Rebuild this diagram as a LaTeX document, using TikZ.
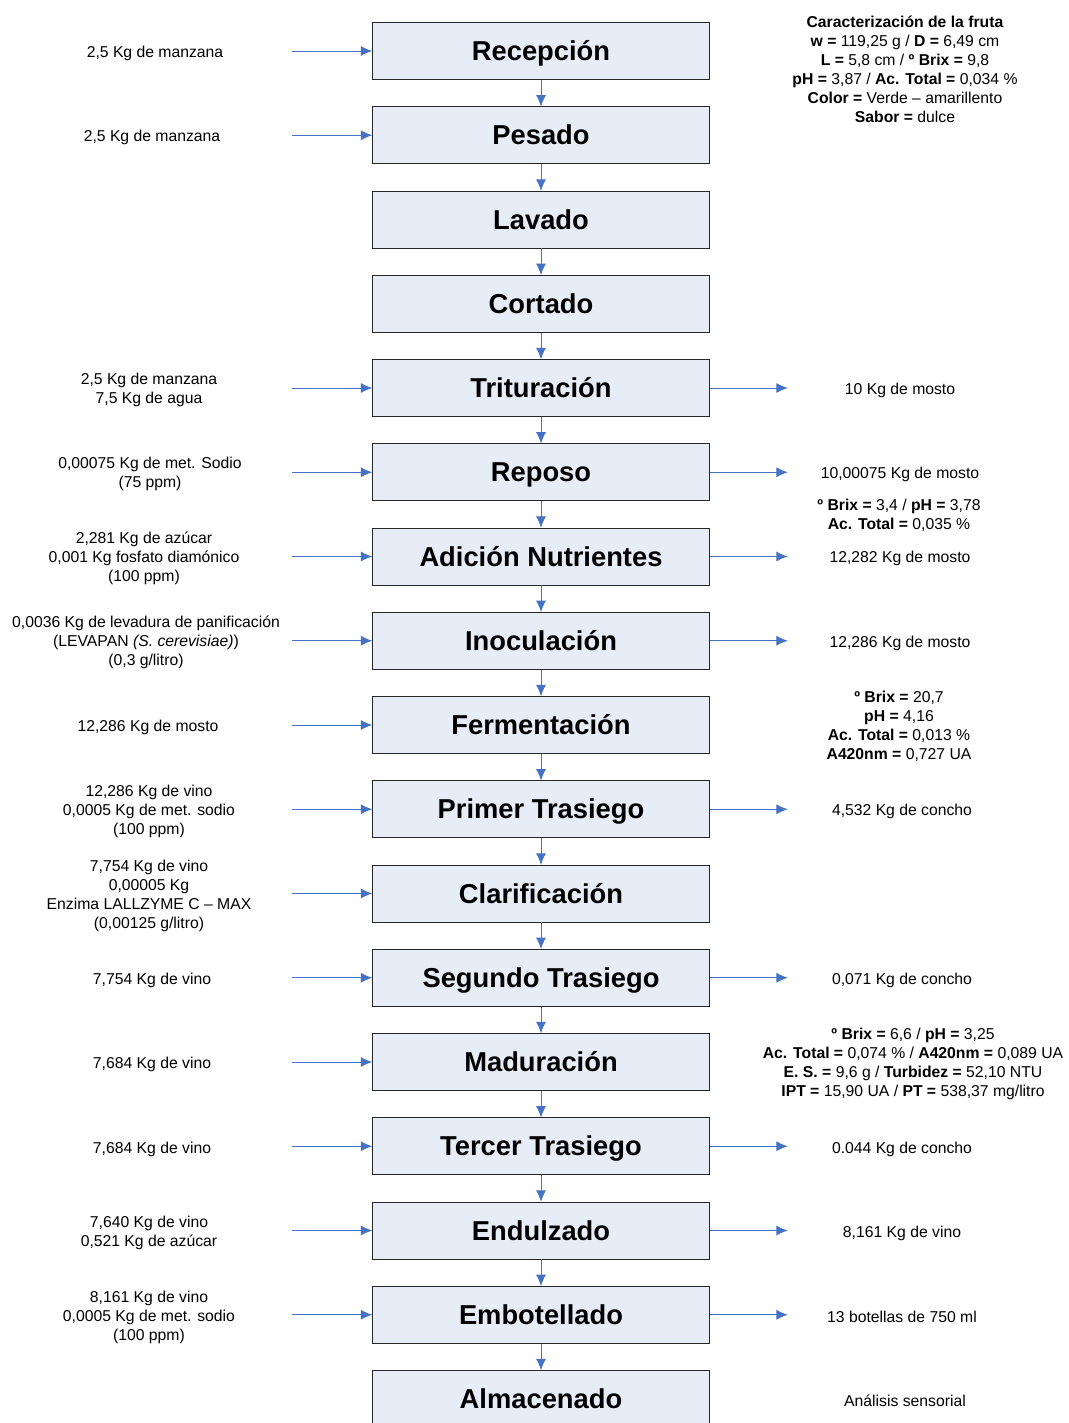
\documentclass[tikz,border=0pt]{standalone}
\usepackage{fontspec}
\setmainfont{Liberation Sans}
\usetikzlibrary{arrows.meta}
\definecolor{cajaFill}{RGB}{231,237,247}
\definecolor{flechaColor}{RGB}{68,114,196}
\tikzset{
  paso/.style={draw=black!85,fill=cajaFill,minimum width=252.75pt,minimum height=42.75pt,
    inner sep=0pt,text height=17pt,text depth=2.5pt,
    font=\fontsize{20.5}{24}\selectfont\bfseries},
  dato/.style={align=center,inner sep=0pt,yshift=-1.5pt,font=\fontsize{11.8}{14.25}\selectfont},
  flecha/.style={flechaColor,line width=0.7pt,-{Latex[length=8.5pt,width=7.5pt]}},
}

\begin{document}
\begin{tikzpicture}[x=0.75pt,y=-0.75pt]
\useasboundingbox (0,0) rectangle (1068,1423);
\clip (0,0) rectangle (1068,1423);
% etapas del proceso, una cada 84.25px
\node[paso] (recepcion) at (541,51) {Recepción};
\node[paso] (pesado) at (541,135.25) {Pesado};
\node[paso] (lavado) at (541,219.5) {Lavado};
\node[paso] (cortado) at (541,303.75) {Cortado};
\node[paso] (trituracion) at (541,388) {Trituración};
\node[paso] (reposo) at (541,472.25) {Reposo};
\node[paso] (adicion) at (541,556.5) {Adición Nutrientes};
\node[paso] (inoculacion) at (541,640.75) {Inoculación};
\node[paso] (fermentacion) at (541,725) {Fermentación};
\node[paso] (trasiego1) at (541,809.25) {Primer Trasiego};
\node[paso] (clarificacion) at (541,893.5) {Clarificación};
\node[paso] (trasiego2) at (541,977.75) {Segundo Trasiego};
\node[paso] (maduracion) at (541,1062) {Maduración};
\node[paso] (trasiego3) at (541,1146.25) {Tercer Trasiego};
\node[paso] (endulzado) at (541,1230.5) {Endulzado};
\node[paso] (embotellado) at (541,1314.75) {Embotellado};
\node[paso] (almacenado) at (541,1399) {Almacenado};
\foreach \a/\b in {recepcion/pesado,pesado/lavado,lavado/cortado,cortado/trituracion,
    trituracion/reposo,reposo/adicion,adicion/inoculacion,inoculacion/fermentacion,
    fermentacion/trasiego1,trasiego1/clarificacion,clarificacion/trasiego2,
    trasiego2/maduracion,maduracion/trasiego3,trasiego3/endulzado,
    endulzado/embotellado,embotellado/almacenado}
  \draw[flecha] (\a.south) -- (\b.north);

% entradas (izquierda)
\node[dato] (e1) at (155,51) {2,5 Kg de manzana};
\node[dato] (e2) at (152,135) {2,5 Kg de manzana};
\node[dato] (e5) at (149,388) {2,5 Kg de manzana\\7,5 Kg de agua};
\node[dato] (e6) at (150,472) {0,00075 Kg de met. Sodio\\(75 ppm)};
\node[dato] (e7) at (144,556) {2,281 Kg de azúcar\\0,001 Kg fosfato diamónico\\(100 ppm)};
\node[dato] (e8) at (146,640) {0,0036 Kg de levadura de panificación\\(LEVAPAN \textit{(S. cerevisiae)})\\(0,3 g/litro)};
\node[dato] (e9) at (148,725) {12,286 Kg de mosto};
\node[dato] (e10) at (149,809) {12,286 Kg de vino\\0,0005 Kg de met. sodio\\(100 ppm)};
\node[dato] (e11) at (149,893.5) {7,754 Kg de vino\\0,00005 Kg\\Enzima LALLZYME C -- MAX\\(0,00125 g/litro)};
\node[dato] (e12) at (152,978) {7,754 Kg de vino};
\node[dato] (e13) at (152,1062) {7,684 Kg de vino};
\node[dato] (e14) at (152,1147) {7,684 Kg de vino};
\node[dato] (e15) at (149,1231) {7,640 Kg de vino\\0,521 Kg de azúcar};
\node[dato] (e16) at (149,1315) {8,161 Kg de vino\\0,0005 Kg de met. sodio\\(100 ppm)};
\foreach \n in {recepcion,pesado,trituracion,reposo,adicion,inoculacion,fermentacion,
    trasiego1,clarificacion,trasiego2,maduracion,trasiego3,endulzado,embotellado}
  \draw[flecha] ([xshift=-60pt]\n.west) -- (\n.west);

% salidas (derecha)
\node[dato] (fruta) at (905,67) {\textbf{Caracterización de la fruta}\\
  \textbf{w =} 119,25 g / \textbf{D =} 6,49 cm\\
  \textbf{L =} 5,8 cm / \textbf{º Brix =} 9,8\\
  \textbf{pH =} 3,87 / \textbf{Ac. Total =} 0,034 \%\\
  \textbf{Color =} Verde -- amarillento\\
  \textbf{Sabor =} dulce};
\node[dato] (s5) at (900,388) {10 Kg de mosto};
\node[dato] (s6) at (900,472) {10,00075 Kg de mosto};
\node[dato] (a6) at (899,513.5) {\textbf{º Brix =} 3,4 / \textbf{pH =} 3,78\\\textbf{Ac. Total =} 0,035 \%};
\node[dato] (s7) at (900,556) {12,282 Kg de mosto};
\node[dato] (s8) at (900,641) {12,286 Kg de mosto};
\node[dato] (a9) at (899,724.5) {\textbf{º Brix =} 20,7\\\textbf{pH =} 4,16\\\textbf{Ac. Total =} 0,013 \%\\\textbf{A420nm =} 0,727 UA};
\node[dato] (s10) at (902,809) {4,532 Kg de concho};
\node[dato] (s12) at (902,978) {0,071 Kg de concho};
\node[dato] (a13) at (913,1061.5) {\textbf{º Brix =} 6,6 / \textbf{pH =} 3,25\\
  \textbf{Ac. Total =} 0,074 \% / \textbf{A420nm =} 0,089 UA\\
  \textbf{E. S. =} 9,6 g / \textbf{Turbidez =} 52,10 NTU\\
  \textbf{IPT =} 15,90 UA / \textbf{PT =} 538,37 mg/litro};
\node[dato] (s14) at (902,1147) {0.044 Kg de concho};
\node[dato] (s15) at (902,1231) {8,161 Kg de vino};
\node[dato] (s16) at (902,1315) {13 botellas de 750 ml};
\node[dato] (s17) at (905,1399) {Análisis sensorial};
\foreach \n in {trituracion,reposo,adicion,inoculacion,trasiego1,trasiego2,
    trasiego3,endulzado,embotellado}
  \draw[flecha] (\n.east) -- ++(58.5pt,0);
\end{tikzpicture}
\end{document}
